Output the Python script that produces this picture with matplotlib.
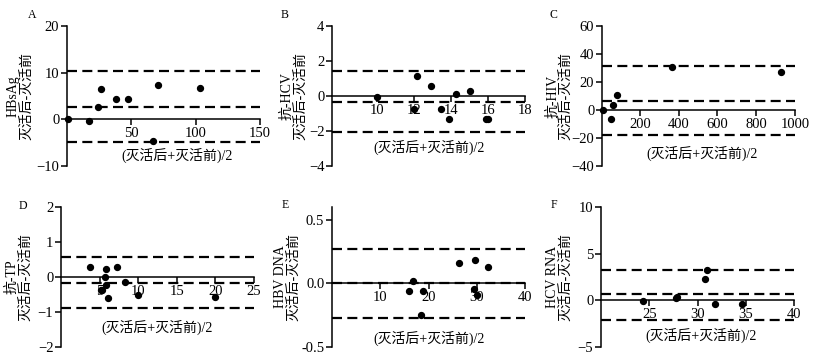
import matplotlib
matplotlib.use("Agg")
import matplotlib.pyplot as plt
from matplotlib.ticker import FormatStrFormatter

plt.rcParams['font.family'] = ['Liberation Serif', 'Noto Sans CJK SC']

# ---- data ----
panel_letters = ["A", "B", "C", "D", "E", "F"]
analytes = ["HBsAg", "抗-HCV", "抗-HIV", "抗-TP", "HBV DNA", "HCV RNA"]
ydiff_label = "灭活后-灭活前"
xmean_label = "(灭活后+灭活前)/2"

A_x = [1, 17.3, 23.8, 26.1, 38.0, 47.3, 66.7, 70.6, 103.2]
A_y = [0, -0.43, 2.58, 6.5, 4.44, 4.44, -4.58, 7.44, 6.66]
A_lines = [10.3, 2.65, -4.95]

B_x = [10.0, 12.0, 12.19, 12.92, 13.5, 13.9, 14.28, 15.05, 15.9, 16.03]
B_y = [-0.05, -0.72, 1.15, 0.6, -0.75, -1.33, 0.12, 0.31, -1.33, -1.29]
B_lines = [1.42, -0.33, -2.08]

C_x = [12, 51, 63, 84, 366, 930]
C_y = [0, -6.7, 3.6, 10.8, 30.4, 27]
C_lines = [31.1, 6.5, -18.1]

D_x = [3.75, 5.14, 5.3, 5.65, 5.82, 5.78, 6.1, 7.27, 8.35, 10.0, 19.96]
D_y = [0.30, -0.38, -0.38, 0.0, 0.24, -0.22, -0.61, 0.30, -0.15, -0.52, -0.58]
D_lines = [0.56, -0.16, -0.88]

E_x = [15.9, 16.8, 18.8, 18.4, 26.4, 29.6, 32.4, 29.4, 30.0]
E_y = [-0.058, 0.016, -0.058, -0.25, 0.163, 0.184, 0.13, -0.047, -0.092]
E_lines = [0.27, 0.002, -0.27]

F_x = [24.4, 27.75, 27.9, 30.97, 30.76, 31.77, 34.6]
F_y = [-0.1, 0.2, 0.4, 3.3, 2.26, -0.4, -0.4]
F_lines = [3.3, 0.68, -2.08]

xs = [A_x, B_x, C_x, D_x, E_x, F_x]
ys = [A_y, B_y, C_y, D_y, E_y, F_y]
lines = [A_lines, B_lines, C_lines, D_lines, E_lines, F_lines]

xlims = [(0, 150), (7.6, 18), (5, 1000), (0, 25), (0, 40), (20, 40)]
ylims = [(-10, 20), (-4, 4), (-40, 60), (-2, 2), (-0.5, 0.6), (-5, 10)]
xticks = [[50, 100, 150], [10, 12, 14, 16, 18], [200, 400, 600, 800, 1000],
          [5, 10, 15, 20, 25], [10, 20, 30, 40], [25, 30, 35, 40]]
yticks = [[-10, 0, 10, 20], [-4, -2, 0, 2, 4], [-40, -20, 0, 20, 40, 60],
          [-2, -1, 0, 1, 2], [-0.5, 0.0, 0.5], [-5, 0, 5, 10]]

# ---- layout (pixels) ----
W, H = 816, 363
fig = plt.figure(figsize=(W / 100, H / 100), dpi=100)

lefts = [67, 332, 602, 61, 332, 601]
tops = [26, 26, 26, 207, 207, 207]
aw, ah = 193, 140
ylab_x = [-0.244, -0.2, -0.222, -0.218, -0.232, -0.216]
xlab_pos = [(0.57, 0.079), (0.505, 0.136), (0.52, 0.093),
            (0.5, 0.143), (0.505, 0.064), (0.52, 0.086)]
letter_pos = [(32, 15), (285, 15), (553, 15), (23, 206), (285, 205), (554, 205)]

for i in range(6):
    l, t = lefts[i], tops[i]
    ax = fig.add_axes([l / W, (H - t - ah) / H, aw / W, ah / H])
    ax.set_xlim(*xlims[i])
    ax.set_ylim(*ylims[i])
    for y in lines[i]:
        ax.axhline(y, color='black', lw=1.6, dashes=(4.5, 2.4), zorder=2)
    ax.scatter(xs[i], ys[i], s=18, color='black', zorder=4, clip_on=False)

    ax.spines['top'].set_visible(False)
    ax.spines['right'].set_visible(False)
    ax.spines['bottom'].set_position(('data', 0))
    ax.spines['left'].set_linewidth(1.1)
    ax.spines['bottom'].set_linewidth(1.1)
    ax.set_xticks(xticks[i])
    ax.set_yticks(yticks[i])
    if i == 4:
        ax.yaxis.set_major_formatter(FormatStrFormatter('%.1f'))
    ax.tick_params(axis='both', direction='out', length=4, width=1.1,
                   labelsize=10.5, pad=1.5)
    ax.patch.set_alpha(0)

    ax.text(ylab_x[i], 0.5, analytes[i] + "\n" + ydiff_label, transform=ax.transAxes,
            rotation=90, ha='center', va='center', fontsize=10,
            multialignment='center', linespacing=1.05)
    ax.text(xlab_pos[i][0], xlab_pos[i][1], xmean_label, transform=ax.transAxes,
            ha='center', va='center', fontsize=10)
    fig.text(letter_pos[i][0] / W, 1 - letter_pos[i][1] / H, panel_letters[i],
             ha='center', va='center', fontsize=8.5)

fig.savefig("out.png", dpi=100)
